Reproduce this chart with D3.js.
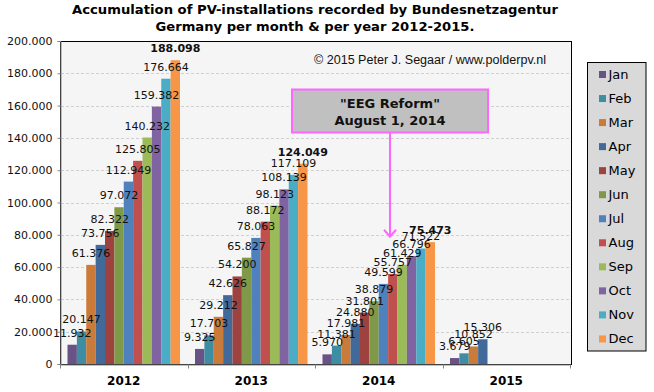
<!DOCTYPE html>
<html>
<head>
<meta charset="utf-8">
<script src="https://cdn.jsdelivr.net/npm/d3@7"></script>
<style>
html,body{margin:0;padding:0;background:#fff;}
svg{display:block;}
</style>
</head>
<body>
<svg id="chart" width="654" height="392"></svg>
<script>
const years = ["2012", "2013", "2014", "2015"];
const months = ["Jan","Feb","Mar","Apr","May","Jun","Jul","Aug","Sep","Oct","Nov","Dec"];
const colors = ["#695285","#3E8DA3","#CB7B39","#416A9B","#9D423F","#7F9949","#4F81BD","#C0504D","#9BBB59","#8064A2","#4BACC6","#F79646"];
const values2012 = [11932, 20147, 61376, 73756, 82322, 97072, 112949, 125805, 140232, 159382, 176664, 188098];
const values2013 = [9325, 17703, 29212, 42626, 54200, 65827, 78063, 88172, 98123, 108139, 117109, 124049];
const values2014 = [5970, 11381, 17981, 24880, 31801, 38879, 49599, 55757, 61429, 66796, 71522, 75473];
const values2015 = [3679, 6605, 10852, 15306];
const yTicks = [0, 20000, 40000, 60000, 80000, 100000, 120000, 140000, 160000, 180000, 200000];
const titleLines = ["Accumulation of PV-installations recorded by Bundesnetzagentur", "Germany per month & per year 2012-2015."];
const copyright = "\u00A9 2015 Peter J. Segaar / www.polderpv.nl";
const noteLines = ["\"EEG Reform\"", "August 1, 2014"];
const noteArrowValue = 78800; // level the annotation arrow points down to

const seriesByYear = {"2012": values2012, "2013": values2013, "2014": values2014, "2015": values2015};
const data = [];
years.forEach(y => seriesByYear[y].forEach((v, i) => data.push({year: y, month: months[i], value: v})));

const loc = d3.formatLocale({decimal: ",", thousands: ".", grouping: [3], currency: ["", ""]});
const fmt = loc.format(",");

const svg = d3.select("#chart");
const L = 60, R = 571, T = 41, B = 364;

const x0 = d3.scaleBand().domain(years).range([L, 570]).padding(0);
const x1 = d3.scaleBand().domain(months).range([0, x0.bandwidth()]).paddingInner(0).paddingOuter(0.8);
const y = d3.scaleLinear().domain([0, 200000]).range([B, T]);
const color = d3.scaleOrdinal().domain(months).range(colors);

// title
svg.append("g").selectAll("text").data(titleLines).join("text")
  .attr("x", 315).attr("y", (d, i) => i === 0 ? 13.5 : 31)
  .attr("text-anchor", "middle")
  .attr("font-family", "DejaVu Sans").attr("font-weight", "bold").attr("font-size", 13)
  .attr("textLength", (d, i) => i === 0 ? 486 : 319).attr("lengthAdjust", "spacingAndGlyphs")
  .attr("fill", "#000").text(d => d);

// plot background
svg.append("rect").attr("x", L).attr("y", T).attr("width", R - L).attr("height", B - T)
  .attr("fill", "#F5F5F5").attr("stroke", "#000").attr("stroke-width", 1)
  .attr("shape-rendering", "crispEdges");

// gridlines
svg.append("g").selectAll("line").data(yTicks.filter(t => t > 0 && t < 200000)).join("line")
  .attr("x1", L + 1).attr("x2", R - 1)
  .attr("y1", d => Math.round(y(d)) + 0.5).attr("y2", d => Math.round(y(d)) + 0.5)
  .attr("stroke", "#D0D0D0").attr("stroke-dasharray", "3,2");

// copyright
svg.append("text").attr("x", 314).attr("y", 63.5)
  .attr("font-family", "Liberation Sans").attr("font-size", 12)
  .attr("textLength", 232).attr("lengthAdjust", "spacingAndGlyphs")
  .attr("fill", "#111").text(copyright);

// bars
svg.append("g").selectAll("rect").data(data).join("rect")
  .attr("x", d => x0(d.year) + x1(d.month))
  .attr("width", x1.bandwidth())
  .attr("y", d => y(d.value))
  .attr("height", d => y(0) - y(d.value))
  .attr("fill", d => color(d.month));

// axes
const yAxis = d3.axisLeft(y).tickValues(yTicks).tickSize(3).tickFormat(d => d === 0 ? "0" : fmt(d));
const gy = svg.append("g").attr("transform", `translate(${L + 0.5},0)`).call(yAxis);
gy.select(".domain").attr("stroke", "#868686");
gy.selectAll(".tick line").attr("stroke", "#868686");
gy.selectAll(".tick text").attr("font-family", "DejaVu Sans").attr("font-size", 11).attr("fill", "#111").attr("x", -8);

const xAxis = d3.axisBottom(x0).tickSize(0).tickSizeOuter(0);
const gx = svg.append("g").attr("transform", `translate(0,${B + 0.5})`).call(xAxis);
gx.select(".domain").attr("stroke", "#868686");
gx.selectAll(".tick text").attr("font-family", "DejaVu Sans").attr("font-weight", "bold")
  .attr("font-size", 12).attr("fill", "#000").attr("y", 20.5).attr("dy", 0);
// category separators
gx.append("g").selectAll("line").data(years.concat(["end"])).join("line")
  .attr("x1", d => Math.round(d === "end" ? x0.range()[1] : x0(d)) + 0.5)
  .attr("x2", d => Math.round(d === "end" ? x0.range()[1] : x0(d)) + 0.5)
  .attr("y1", 0).attr("y2", 4).attr("stroke", "#868686");

// data labels
svg.append("g").selectAll("text").data(data).join("text")
  .attr("x", d => x0(d.year) + x1(d.month) + x1.bandwidth() / 2)
  .attr("y", d => y(d.value) - 8)
  .attr("text-anchor", "middle")
  .attr("font-family", "DejaVu Sans").attr("font-size", 11)
  .attr("font-weight", d => d.month === "Dec" ? "bold" : "normal")
  .attr("fill", "#111")
  .text(d => fmt(d.value));

// annotation
const noteX = 390;
const arrowTip = y(noteArrowValue);
svg.append("line").attr("x1", noteX).attr("x2", noteX).attr("y1", 132).attr("y2", arrowTip)
  .attr("stroke", "#FF66FF").attr("stroke-width", 2);
svg.append("path").attr("d", `M${noteX - 6},${arrowTip - 7}L${noteX},${arrowTip}L${noteX + 6},${arrowTip - 7}`)
  .attr("fill", "none").attr("stroke", "#FF66FF").attr("stroke-width", 2);
svg.append("rect").attr("x", 292).attr("y", 89.5).attr("width", 196).attr("height", 43)
  .attr("fill", "#C0C0C0").attr("stroke", "#FF66FF").attr("stroke-width", 2);
svg.append("g").selectAll("text").data(noteLines).join("text")
  .attr("x", noteX).attr("y", (d, i) => i === 0 ? 107.5 : 125)
  .attr("text-anchor", "middle")
  .attr("font-family", "DejaVu Sans").attr("font-weight", "bold").attr("font-size", 13)
  .attr("fill", "#111").text(d => d);

// legend
const lg = svg.append("g");
lg.append("rect").attr("x", 587.5).attr("y", 62.5).attr("width", 58.5).attr("height", 288.5)
  .attr("fill", "#D9D9D9").attr("stroke", "#000");
const li = lg.selectAll("g.item").data(months).join("g").attr("class", "item")
  .attr("transform", (d, i) => `translate(0,${74.5 + i * 24.04})`);
li.append("rect").attr("x", 599).attr("y", -3.5).attr("width", 7).attr("height", 7).attr("fill", d => color(d));
li.append("text").attr("x", 608.5).attr("y", 4.5)
  .attr("font-family", "DejaVu Sans").attr("font-size", 13).attr("fill", "#000").text(d => d);
</script>
</body>
</html>
